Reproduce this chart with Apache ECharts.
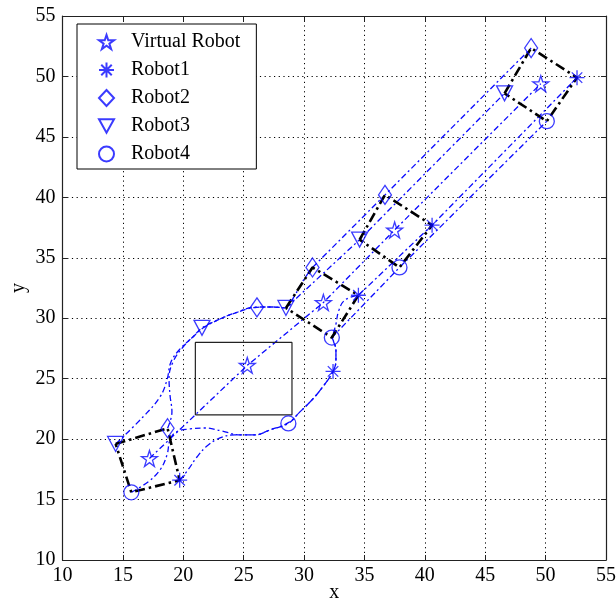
<!DOCTYPE html>
<html>
<head>
<meta charset="utf-8">
<script src="https://cdn.jsdelivr.net/npm/echarts@6.0.0/dist/echarts.min.js"></script>
<style>
  html, body { margin: 0; padding: 0; background: #fff; }
  #chart { width: 616px; height: 603px; }
</style>
</head>
<body>
<div id="chart"></div>
<script>
// marker positions at the five snapshots
const virtualMarks = [[17.2, 18.4], [25.3, 26.1], [31.6, 31.3], [37.5, 37.3], [49.6, 49.4]]
const robot1Marks = [[19.7, 16.6], [32.4, 25.6], [34.5, 31.9], [40.6, 37.7], [52.6, 49.9]]
const robot2Marks = [[18.7, 20.9], [26.1, 30.9], [30.7, 34.2], [36.7, 40.2], [48.8, 52.35]]
const robot3Marks = [[14.4, 19.6], [21.55, 29.2], [28.5, 30.85], [34.6, 36.5], [46.6, 48.6]]
const robot4Marks = [[15.7, 15.6], [28.7, 21.3], [32.3, 28.4], [37.9, 34.2], [50.1, 46.3]]

// curved part of each path (first to third snapshot)
const robot1Curve = [[19.7, 16.6], [20.39, 17.45], [21.13, 18.52], [21.96, 19.43], [23.04, 20.1], [24.28, 20.35],
  [25.94, 20.35], [27.18, 20.76], [28.67, 21.34], [29.66, 22.25], [30.65, 23.24], [31.48, 24.23], [32.4, 25.6],
  [32.64, 26.55], [32.64, 27.37], [32.39, 28.37], [32.64, 29.52], [32.89, 30.68], [33.39, 31.51], [34.5, 31.9]]
const robot2Curve = [[18.7, 20.9], [19.06, 22.25], [18.9, 23.65], [18.82, 25.06], [19.15, 26.38], [19.98, 27.62],
  [20.97, 28.61], [21.63, 29.19], [22.87, 29.86], [24.28, 30.43], [26.1, 30.9], [27.34, 30.93], [28.5, 30.85],
  [29.16, 31.76], [29.91, 33.08], [30.7, 34.2]]
const robot3Curve = [[14.4, 19.6], [16.66, 21.83], [18.07, 23.49], [18.65, 24.89], [18.98, 26.38], [19.73, 27.46],
  [20.8, 28.45], [21.55, 29.2], [22.87, 29.86], [24.28, 30.43], [26.1, 30.93], [27.34, 30.93], [28.5, 30.85]]
const robot4Curve = [[15.7, 15.6], [17.08, 16.46], [18.07, 17.45], [18.65, 18.69], [18.9, 19.93], [19.4, 20.59],
  [20.56, 20.84], [21.8, 20.92], [23.2, 20.67], [24.69, 20.35], [25.94, 20.35], [27.18, 20.76], [28.7, 21.3],
  [29.66, 22.25], [30.65, 23.24], [31.48, 24.23], [32.4, 25.6], [32.64, 26.55], [32.64, 27.37], [32.3, 28.4]]

const obstacle = [[21, 22], [29, 22], [29, 28], [21, 28], [21, 22]]
const formationSteps = [0, 2, 3, 4]
const ticks = { min: 10, max: 55, interval: 5 }

const starPath = 'path://M10 0 L12.245 6.91 L19.51 6.91 L13.633 11.18 L15.88 18.09 L10 13.82 L4.12 18.09 L6.367 11.18 L0.49 6.91 L7.755 6.91 Z'
const asteriskPath = 'path://M10 0 L10 20 M0 10 L20 10 M3 3 L17 17 M3 17 L17 3'
const downTriangle = 'path://M0 0 L20 0 L10 18 Z'
const blue = '#0a0aff'
const serif = 'Liberation Serif'

const pathLine = (data, smooth) => ({
  type: 'line', data, smooth, symbol: 'none', silent: true, z: 2,
  lineStyle: { color: blue, width: 1.3, type: [6, 3, 2, 3] },
})

const markers = (name, data, symbol, symbolSize) => ({
  name, type: 'scatter', data, symbol, symbolSize, z: 5,
  itemStyle: { color: 'transparent', borderColor: blue, borderWidth: 1.3 },
})

const allMarks = [robot1Marks, robot2Marks, robot3Marks, robot4Marks]
const curves = [robot1Curve, robot2Curve, robot3Curve, robot4Curve]

const series = []
curves.forEach((c, i) => {
  series.push(pathLine(c, 0.4))
  series.push(pathLine(allMarks[i].slice(2), false))
})
series.push(pathLine(virtualMarks, false))

// formation polygons: triangle -> diamond -> asterisk -> circle
formationSteps.forEach(k => {
  const poly = [robot3Marks[k], robot2Marks[k], robot1Marks[k], robot4Marks[k], robot3Marks[k]]
  series.push({
    type: 'line', data: poly, symbol: 'none', silent: true, z: 3,
    lineStyle: { color: '#000', width: 2.6, type: [10, 4, 2.5, 4] },
  })
})

series.push({
  type: 'line', data: obstacle, symbol: 'none', silent: true, z: 3,
  lineStyle: { color: '#222', width: 1.2 },
})

series.push(markers('Virtual Robot', virtualMarks, starPath, 16))
series.push(markers('Robot1', robot1Marks, asteriskPath, 15))
series.push(markers('Robot2', robot2Marks, 'diamond', [13, 19]))
series.push(markers('Robot3', robot3Marks, downTriangle, [16, 15]))
series.push(markers('Robot4', robot4Marks, 'circle', 15))

const axisBase = (extra) => Object.assign({
  type: 'value', min: ticks.min, max: ticks.max, interval: ticks.interval,
  axisLine: { show: true, onZero: false, lineStyle: { color: '#222', width: 1.2 } },
  axisTick: { show: true, inside: true, length: 5, lineStyle: { color: '#222' } },
  axisLabel: { show: false },
  splitLine: { show: false },
}, extra)

const labelStyle = { show: true, color: '#000', fontFamily: serif, fontSize: 20 }
const gridLine = { show: true, lineStyle: { color: '#000', width: 1, type: [1.2, 3.5] } }

const chart = echarts.init(document.getElementById('chart'))
chart.setOption({
  animation: false,
  backgroundColor: '#fff',
  grid: { left: 62.5, right: 10, top: 16, bottom: 43, containLabel: false, outerBoundsMode: 'none' },
  legend: {
    data: ['Virtual Robot', 'Robot1', 'Robot2', 'Robot3', 'Robot4'],
    orient: 'vertical', left: 77, top: 24,
    padding: [8, 16, 5, 21],
    itemWidth: 15, itemHeight: 16, itemGap: 8,
    backgroundColor: '#fff', borderColor: '#000', borderWidth: 1,
    textStyle: { fontFamily: serif, fontSize: 20, color: '#000', lineHeight: 20, padding: [0, 0, 0, 12] },
  },
  xAxis: [
    axisBase({ position: 'bottom', name: 'x', nameLocation: 'middle', nameGap: 23, nameMoveOverlap: false,
      nameTextStyle: { fontFamily: serif, fontSize: 20, color: '#000' },
      axisLabel: Object.assign({ margin: 6 }, labelStyle), splitLine: gridLine }),
    axisBase({ position: 'top' }),
  ],
  yAxis: [
    axisBase({ position: 'left', name: 'y', nameLocation: 'middle', nameGap: 34, nameMoveOverlap: false,
      nameTextStyle: { fontFamily: serif, fontSize: 20, color: '#000' },
      axisLabel: Object.assign({ margin: 7 }, labelStyle), splitLine: gridLine }),
    axisBase({ position: 'right' }),
  ],
  series,
})
</script>
</body>
</html>
